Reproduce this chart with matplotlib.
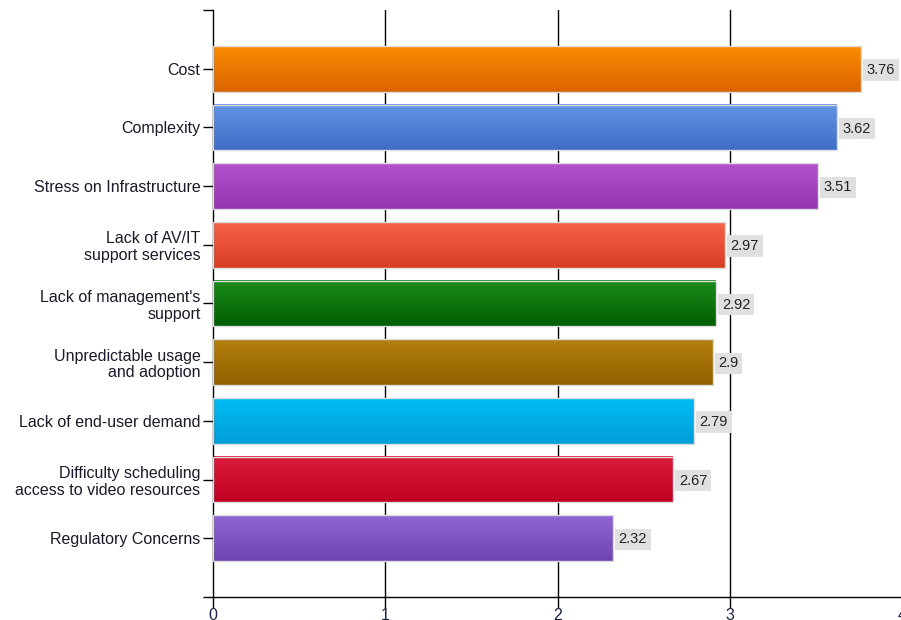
import numpy as np
import matplotlib.pyplot as plt
from matplotlib.colors import to_rgb

categories = ["Cost", "Complexity", "Stress on Infrastructure",
              "Lack of AV/IT\nsupport services", "Lack of management's\nsupport",
              "Unpredictable usage\nand adoption", "Lack of end-user demand",
              "Difficulty scheduling\naccess to video resources", "Regulatory Concerns"]
values = [3.76, 3.62, 3.51, 2.97, 2.92, 2.9, 2.79, 2.67, 2.32]
value_labels = ["3.76", "3.62", "3.51", "2.97", "2.92", "2.9", "2.79", "2.67", "2.32"]
top_colors = ["#fa8c00", "#6393e6", "#b452cc", "#f7624a", "#1c8c1c", "#b4800e", "#00bcf4", "#dc1c3c", "#9066d4"]
bottom_colors = ["#dc6400", "#3f6ec6", "#9634b2", "#d83e22", "#005e00", "#926000", "#009ed8", "#be0022", "#6e44b0"]

plt.rcParams['font.family'] = ['Liberation Sans', 'DejaVu Sans']

fig = plt.figure(figsize=(9.01, 6.2), dpi=100)
ax = fig.add_axes([213 / 901, 23 / 620, 689 / 901, 587 / 620])

y = np.arange(len(categories))
h = 0.78
bars = ax.barh(y, values, height=h, facecolor='none', edgecolor='#dcdcdc', linewidth=1, zorder=3)

for i, b in enumerate(bars):
    c1 = np.array(to_rgb(top_colors[i]))
    c2 = np.array(to_rgb(bottom_colors[i]))
    t = np.linspace(0, 1, 64)[:, None]
    grad = (c1 * (1 - t) + c2 * t)[:, None, :]
    ax.imshow(grad, extent=[0, values[i], y[i] + h / 2, y[i] - h / 2],
              aspect='auto', zorder=2, interpolation='bilinear')
    ax.text(values[i] + 0.035, y[i] + 0.02, value_labels[i], va='center', ha='left',
            fontsize=10.5, color='#222222', zorder=4,
            bbox=dict(boxstyle='square,pad=0.25', facecolor='#e0e0e0', edgecolor='none'))

ax.set_xlim(0, 4)
ax.set_ylim(9, -1)
ax.set_xticks([0, 1, 2, 3, 4])
ax.set_yticks(np.arange(-1, 10))
ax.set_yticklabels([""] + categories + [""], fontsize=11.5, linespacing=1.15, color='#1a1a2a')
ax.tick_params(axis='y', length=7, width=1, pad=2)
ax.tick_params(axis='x', length=8, width=1, pad=0, labelsize=11.5, labelcolor='#1a2040')
for xv in [1, 2, 3]:
    ax.axvline(xv, color='black', linewidth=1, zorder=1)

ax.spines['top'].set_visible(False)
ax.spines['right'].set_visible(False)
ax.spines['left'].set_linewidth(1)
ax.spines['bottom'].set_linewidth(1)
ax.set_axisbelow(True)

fig.savefig("out.png", dpi=100)
